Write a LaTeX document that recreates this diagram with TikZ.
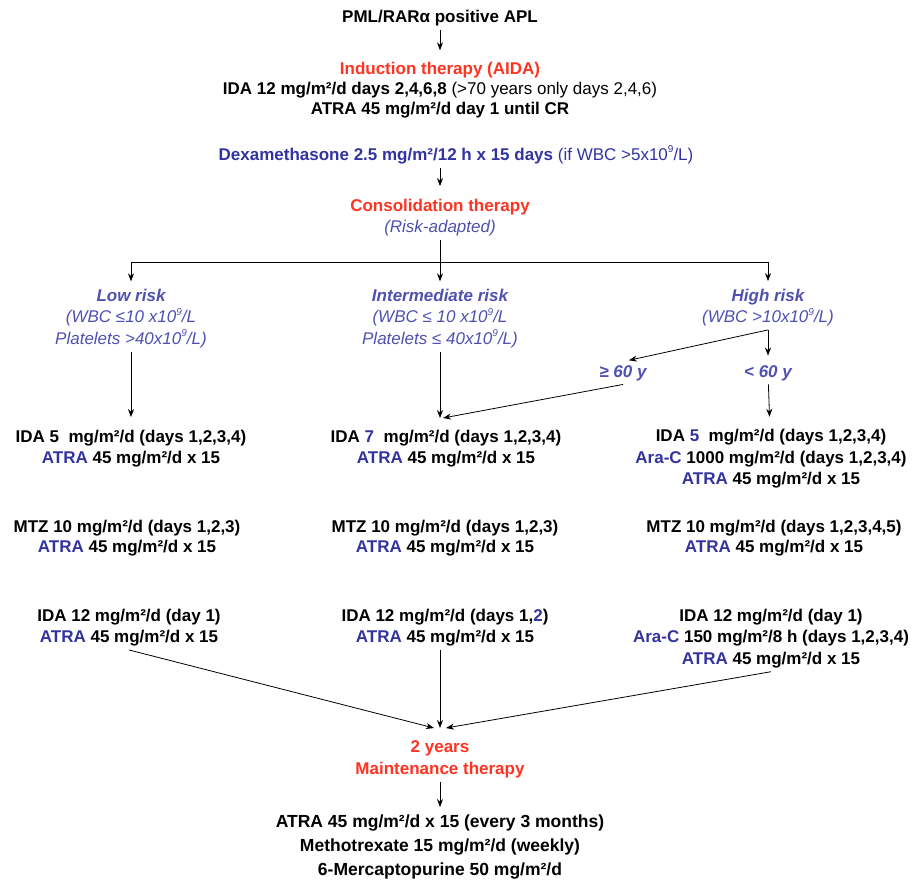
\documentclass[tikz,border=0pt]{standalone}
\usepackage{fontspec}
\setmainfont{Liberation Sans}
\usetikzlibrary{positioning,arrows.meta}
\definecolor{aidared}{RGB}{255,51,34}
\definecolor{drugblue}{RGB}{51,51,160}
\definecolor{riskblue}{RGB}{80,80,176}
\newcommand{\drug}[1]{\textcolor{drugblue}{#1}}
\newcommand{\nine}{\raisebox{0.45em}{\fontsize{10}{10}\selectfont 9}}
\tikzset{
	every picture/.style={/utils/exec={\bfseries}},
	txt/.style={align=center, font=\fontsize{17}{21.5}\selectfont},
	head/.style={txt, text=aidared},
	risk/.style={align=center, text=riskblue, font=\fontsize{17}{21.5}\selectfont\mdseries\itshape},
	>={Stealth[length=8pt,width=6pt]},
}
\begin{document}
\begin{tikzpicture}[x=1pt, y=-1pt, line width=0.8pt]
	\useasboundingbox (0,0) rectangle (912,884);
	\node[txt] (apl) at (440,18) {PML/RARα positive APL};
	\node[txt, font=\fontsize{17}{20}\selectfont] (induction) at (440,90) {\textcolor{aidared}{Induction therapy (AIDA)}\\
		IDA 12 mg/m²/d days 2,4,6,8 {\mdseries (>70 years only days 2,4,6)}\\
		ATRA 45 mg/m²/d day 1 until CR};
	\node[txt, text=drugblue] (dexa) at (456,155) {Dexamethasone 2.5 mg/m²/12 h x 15 days {\mdseries (if WBC >5x10\nine/L)}};
	\node[txt] (consol) at (440,217.5) {\textcolor{aidared}{Consolidation therapy}\\ \textcolor{riskblue}{\mdseries\itshape (Risk-adapted)}};
	\coordinate (split) at (440,262);

	% risk groups
	\node[risk] (low) at (131,318.5) {\textbf{Low risk}\\ (WBC ≤10 x10\nine/L\\ Platelets >40x10\nine/L)};
	\node[risk] (inter) at (440,318.5) {\textbf{Intermediate risk}\\ (WBC ≤ 10 x10\nine/L\\ Platelets ≤ 40x10\nine/L)};
	\node[risk] (high) at (768,307.5) {\textbf{High risk}\\ (WBC >10x10\nine/L)};
	\node[risk] (old) at (623,373) {\textbf{≥ 60 y}};
	\node[risk] (young) at (768,373) {\textbf{< 60 y}};
	\coordinate (join) at (440,418);

	% first cycle
	\node[txt] (lowa) at (131,448.5) {IDA 5\ \ mg/m²/d (days 1,2,3,4)\\ \drug{ATRA} 45 mg/m²/d x 15};
	\node[txt] (intera) at (446,448.5) {IDA \drug{7}\ \ mg/m²/d (days 1,2,3,4)\\ \drug{ATRA} 45 mg/m²/d x 15};
	\node[txt] (higha) at (771,459) {IDA \drug{5}\ \ mg/m²/d (days 1,2,3,4)\\ \drug{Ara-C} 1000 mg/m²/d (days 1,2,3,4)\\ \drug{ATRA} 45 mg/m²/d x 15};

	% second cycle
	\node[txt, font=\fontsize{17}{20}\selectfont] (lowb) at (127,538) {MTZ 10 mg/m²/d (days 1,2,3)\\ \drug{ATRA} 45 mg/m²/d x 15};
	\node[txt, font=\fontsize{17}{20}\selectfont] (interb) at (445,538) {MTZ 10 mg/m²/d (days 1,2,3)\\ \drug{ATRA} 45 mg/m²/d x 15};
	\node[txt, font=\fontsize{17}{20}\selectfont] (highb) at (774,538) {MTZ 10 mg/m²/d (days 1,2,3,4,5)\\ \drug{ATRA} 45 mg/m²/d x 15};

	% third cycle
	\node[txt] (lowc) at (129,627.5) {IDA 12 mg/m²/d (day 1)\\ \drug{ATRA} 45 mg/m²/d x 15};
	\node[txt] (interc) at (445,627.5) {IDA 12 mg/m²/d (days 1,\drug{2})\\ \drug{ATRA} 45 mg/m²/d x 15};
	\node[txt] (highc) at (771,638.5) {IDA 12 mg/m²/d (day 1)\\ \drug{Ara-C} 150 mg/m²/8 h (days 1,2,3,4)\\ \drug{ATRA} 45 mg/m²/d x 15};
	\coordinate (merge) at (440,728);

	% maintenance
	\node[head] (maint) at (440,759.5) {2 years\\ Maintenance therapy};
	\node[txt, font=\fontsize{17.5}{24}\selectfont] (regimen) at (440,847) {ATRA 45 mg/m²/d x 15 (every 3 months)\\
		Methotrexate 15 mg/m²/d (weekly)\\ 6-Mercaptopurine 50 mg/m²/d};

	\path (apl) edge[->, shorten >=8pt] (induction);
	\path (dexa.south -| consol) edge[->, shorten >=9pt] (consol);
	\draw (consol) -- (split);
	\draw (low |- split) -- (high |- split);
	\path (low |- split) edge[->, shorten >=4pt] (low);
	\path (split) edge[->, shorten >=4pt] (inter);
	\path (high |- split) edge[->, shorten >=4pt] (high);
	\path (high.south) edge[->, shorten >=6pt] (old.north);
	\path (high.south) edge[->, shorten >=6pt] (young);
	\path (low) edge[->, shorten >=9pt] (lowa);
	\path (inter) edge[->] (join);
	\path (old.south) edge[->] ([xshift=3pt]join);
	\path (young) edge[->, shorten >=9pt] (higha);
	\path (lowc.south) edge[->] ([xshift=-6pt]merge);
	\path (interc.south -| merge) edge[->] (merge);
	\path (highc.south) edge[->] ([xshift=6pt]merge);
	\path (maint) edge[->, shorten >=4pt] (regimen);
\end{tikzpicture}
\end{document}
